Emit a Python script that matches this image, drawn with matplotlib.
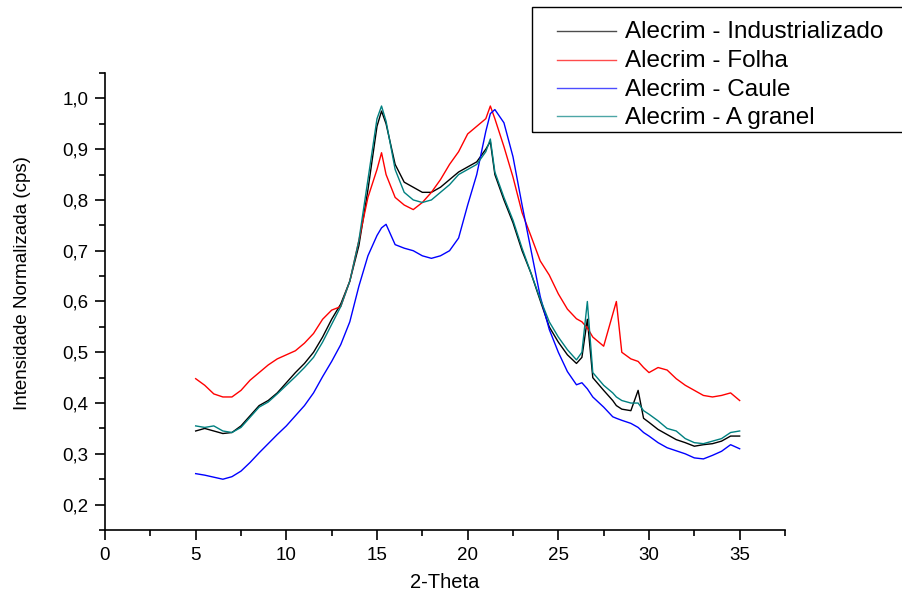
import numpy as np
import matplotlib
matplotlib.use("Agg")
import matplotlib.pyplot as plt
from matplotlib.ticker import MultipleLocator, FuncFormatter
from matplotlib.patches import Rectangle
from matplotlib.lines import Line2D

plt.rcParams['font.family'] = ['Liberation Sans', 'DejaVu Sans']

# 2-theta positions (common grid, denser near peaks)
theta = [5.0, 5.5, 6.0, 6.5, 7.0, 7.5, 8.0, 8.5, 9.0, 9.5, 10.0, 10.5, 11.0, 11.5,
         12.0, 12.5, 13.0, 13.5, 14.0, 14.5, 15.0, 15.25, 15.5, 16.0, 16.5, 17.0,
         17.5, 18.0, 18.5, 19.0, 19.5, 20.0, 20.5, 21.0, 21.25, 21.5, 22.0, 22.5,
         23.0, 23.5, 24.0, 24.5, 25.0, 25.5, 26.0, 26.3, 26.6, 26.9, 27.5, 28.0,
         28.2, 28.5, 29.0, 29.4, 29.7, 30.0, 30.5, 31.0, 31.5, 32.0, 32.5, 33.0,
         33.5, 34.0, 34.5, 35.0]

industrializado = [0.345, 0.350, 0.345, 0.340, 0.342, 0.355, 0.375, 0.395, 0.405, 0.420,
                   0.440, 0.460, 0.478, 0.500, 0.530, 0.565, 0.595, 0.640, 0.710, 0.820,
                   0.945, 0.975, 0.950, 0.870, 0.835, 0.825, 0.815, 0.815, 0.825, 0.840,
                   0.855, 0.865, 0.875, 0.900, 0.915, 0.850, 0.800, 0.755, 0.700, 0.655,
                   0.602, 0.550, 0.520, 0.495, 0.478, 0.490, 0.565, 0.450, 0.425, 0.405,
                   0.395, 0.388, 0.385, 0.425, 0.370, 0.362, 0.348, 0.338, 0.328, 0.322,
                   0.315, 0.318, 0.320, 0.325, 0.335, 0.335]

folha = [0.448, 0.435, 0.418, 0.412, 0.412, 0.425, 0.445, 0.460, 0.475, 0.487,
         0.495, 0.503, 0.518, 0.537, 0.565, 0.583, 0.590, 0.640, 0.720, 0.805,
         0.860, 0.893, 0.850, 0.805, 0.790, 0.781, 0.795, 0.815, 0.840, 0.870,
         0.895, 0.930, 0.945, 0.960, 0.985, 0.960, 0.905, 0.845, 0.775, 0.728,
         0.680, 0.652, 0.615, 0.585, 0.566, 0.560, 0.548, 0.530, 0.512, 0.575,
         0.600, 0.500, 0.487, 0.482, 0.470, 0.460, 0.470, 0.465, 0.448, 0.435,
         0.425, 0.415, 0.412, 0.415, 0.420, 0.405]

caule = [0.261, 0.258, 0.254, 0.250, 0.255, 0.266, 0.283, 0.302, 0.320, 0.338,
         0.355, 0.375, 0.395, 0.420, 0.452, 0.482, 0.515, 0.560, 0.630, 0.690,
         0.730, 0.745, 0.752, 0.712, 0.705, 0.700, 0.690, 0.685, 0.690, 0.700,
         0.725, 0.790, 0.850, 0.935, 0.970, 0.978, 0.952, 0.885, 0.790, 0.700,
         0.610, 0.545, 0.500, 0.462, 0.436, 0.440, 0.428, 0.412, 0.392, 0.373,
         0.370, 0.366, 0.360, 0.352, 0.342, 0.335, 0.322, 0.312, 0.306, 0.300,
         0.292, 0.290, 0.297, 0.305, 0.318, 0.310]

granel = [0.355, 0.352, 0.355, 0.345, 0.342, 0.352, 0.372, 0.392, 0.402, 0.418,
          0.435, 0.452, 0.470, 0.490, 0.520, 0.555, 0.590, 0.640, 0.720, 0.840,
          0.960, 0.985, 0.955, 0.860, 0.815, 0.800, 0.795, 0.800, 0.815, 0.830,
          0.850, 0.860, 0.870, 0.895, 0.920, 0.855, 0.805, 0.760, 0.705, 0.655,
          0.605, 0.560, 0.530, 0.505, 0.485, 0.500, 0.600, 0.460, 0.435, 0.420,
          0.412, 0.405, 0.400, 0.400, 0.385, 0.378, 0.365, 0.350, 0.345, 0.330,
          0.322, 0.320, 0.325, 0.330, 0.342, 0.345]

labels = ["Alecrim - Industrializado", "Alecrim - Folha", "Alecrim - Caule", "Alecrim - A granel"]
colors = ["black", "red", "blue", "#008080"]

W, H = 903, 597
fig = plt.figure(figsize=(W / 100, H / 100), dpi=100)
ax = fig.add_axes([105 / W, 1 - 530 / H, 680 / W, 457 / H])

for ys, c, lab in zip([industrializado, folha, caule, granel], colors, labels):
    ax.plot(theta, ys, color=c, lw=1, label=lab)

ax.set_xlim(0, 37.5)
ax.set_ylim(0.15, 1.05)
ax.xaxis.set_major_locator(MultipleLocator(5))
ax.xaxis.set_minor_locator(MultipleLocator(2.5))
ax.yaxis.set_major_locator(MultipleLocator(0.1))
ax.yaxis.set_minor_locator(MultipleLocator(0.05))
ax.yaxis.set_major_formatter(FuncFormatter(lambda v, p: f"{v:.1f}".replace(".", ",")))

for s in ["top", "right"]:
    ax.spines[s].set_visible(False)
for s in ["left", "bottom"]:
    ax.spines[s].set_linewidth(1.2)
ax.tick_params(which="major", length=7, width=1.2, labelsize=13.5, pad=5)
ax.tick_params(which="minor", length=4, width=1.2)

ax.set_xlabel("2-Theta", fontsize=14.5)
ax.xaxis.set_label_coords(0.5, -(583 - 530) / 457)
ax.xaxis.label.set_va("center")
ax.set_ylabel("Intensidade Normalizada (cps)", fontsize=13.5)
ax.yaxis.set_label_coords((23 - 105) / 680, (530 - 283) / 457)
ax.yaxis.label.set_va("center")

# legend box drawn in figure pixels, running off the right edge like the original
fig.patches.append(Rectangle((532 / W, 1 - 132 / H), 400 / W, 125 / H,
                             transform=fig.transFigure, fill=False,
                             edgecolor="black", lw=1.0))
for i, (c, lab) in enumerate(zip(colors, labels)):
    yp = 31 + i * 28.5
    fig.lines.append(Line2D([557 / W, 616 / W], [1 - yp / H, 1 - yp / H],
                            transform=fig.transFigure, color=c, lw=1, alpha=0.7))
    fig.text(625 / W, 1 - (yp + 7.5) / H, lab, fontsize=17.5, va="baseline", ha="left")

fig.savefig("out.png", dpi=100)
